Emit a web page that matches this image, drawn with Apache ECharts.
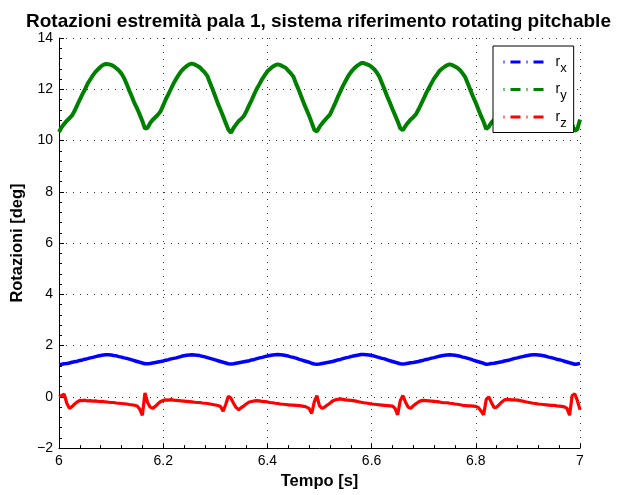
<!DOCTYPE html>
<html>
<head>
<meta charset="utf-8">
<script src="https://cdn.jsdelivr.net/npm/echarts@6/dist/echarts.min.js"></script>
<style>
  html, body { margin: 0; padding: 0; background: #fff; }
  #chart { width: 617px; height: 495px; }
</style>
</head>
<body>
<div id="chart"></div>
<script>
// Sampling of the tip-rotation signals: one sample every 5 ms from 6 s to 7 s
const tStart = 6.0;
const tStep = 0.005;

// r_x [deg]
const rx = [
  1.26, 1.27, 1.29, 1.30, 1.32, 1.35, 1.37, 1.39, 1.42, 1.44,
  1.47, 1.49, 1.52, 1.54, 1.57, 1.59, 1.61, 1.63, 1.64,
  1.64, 1.63, 1.61, 1.60, 1.57, 1.55, 1.52, 1.50, 1.47, 1.44, 1.41, 1.38, 1.35, 1.32, 1.29,
  1.29, 1.30, 1.32, 1.34, 1.36, 1.38, 1.40, 1.43, 1.45, 1.48, 1.50, 1.52, 1.55, 1.58, 1.60, 1.62, 1.63, 1.64,
  1.63, 1.62, 1.61, 1.58, 1.56, 1.53, 1.50, 1.47, 1.44, 1.41, 1.38, 1.35, 1.32, 1.29,
  1.28, 1.29, 1.31, 1.33, 1.35, 1.37, 1.39, 1.41, 1.44, 1.46, 1.49, 1.52, 1.54, 1.57, 1.59, 1.61, 1.63, 1.64, 1.65,
  1.64, 1.63, 1.61, 1.59, 1.56, 1.54, 1.51, 1.47, 1.44, 1.41, 1.38, 1.35, 1.31, 1.28,
  1.27, 1.28, 1.30, 1.32, 1.34, 1.36, 1.38, 1.41, 1.44, 1.46, 1.49, 1.52, 1.54, 1.57, 1.59, 1.61, 1.63, 1.65,
  1.65, 1.64, 1.63, 1.61, 1.59, 1.56, 1.53, 1.50, 1.48, 1.44, 1.41, 1.38, 1.35, 1.32, 1.29,
  1.28, 1.29, 1.31, 1.33, 1.34, 1.36, 1.38, 1.41, 1.43, 1.46, 1.48, 1.51, 1.53, 1.56, 1.58, 1.60, 1.62, 1.63, 1.64,
  1.63, 1.62, 1.60, 1.58, 1.55, 1.53, 1.50, 1.47, 1.43, 1.40, 1.37, 1.34, 1.31, 1.27,
  1.28, 1.30, 1.31, 1.33, 1.35, 1.37, 1.40, 1.42, 1.44, 1.47, 1.50, 1.52, 1.55, 1.57, 1.59, 1.61, 1.63, 1.64,
  1.64, 1.63, 1.62, 1.60, 1.58, 1.55, 1.53, 1.50, 1.47, 1.45, 1.42, 1.39, 1.36, 1.33, 1.30, 1.27, 1.28, 1.32
];

// r_y [deg]
const ry = [
  10.33, 10.52, 10.65, 10.77, 10.87, 10.98, 11.16, 11.38, 11.60, 11.81, 12.00, 12.22, 12.38, 12.54, 12.68, 12.78, 12.88, 12.95, 12.99,
  12.98, 12.95, 12.90, 12.82, 12.73, 12.61, 12.43, 12.20, 11.94, 11.71, 11.45, 11.25, 11.01, 10.76, 10.47,
  10.50, 10.68, 10.81, 10.91, 11.01, 11.14, 11.37, 11.61, 11.81, 12.02, 12.23, 12.41, 12.57, 12.72, 12.82, 12.90, 12.97, 13.00,
  12.97, 12.92, 12.86, 12.75, 12.65, 12.51, 12.24, 11.99, 11.72, 11.44, 11.20, 10.95, 10.68, 10.43,
  10.30, 10.49, 10.63, 10.76, 10.85, 10.96, 11.16, 11.38, 11.59, 11.82, 12.03, 12.21, 12.40, 12.55, 12.70, 12.79, 12.88, 12.94, 12.97,
  12.94, 12.89, 12.84, 12.73, 12.62, 12.49, 12.22, 11.98, 11.72, 11.45, 11.21, 10.97, 10.70, 10.42,
  10.35, 10.53, 10.67, 10.79, 10.90, 11.01, 11.23, 11.45, 11.69, 11.91, 12.13, 12.32, 12.51, 12.66, 12.78, 12.88, 12.95, 13.02,
  13.02, 12.98, 12.94, 12.87, 12.78, 12.65, 12.49, 12.23, 11.98, 11.72, 11.48, 11.23, 10.99, 10.75, 10.48,
  10.40, 10.57, 10.70, 10.82, 10.91, 11.02, 11.21, 11.42, 11.63, 11.86, 12.05, 12.24, 12.42, 12.56, 12.71, 12.80, 12.88, 12.94, 12.97,
  12.94, 12.89, 12.83, 12.74, 12.61, 12.46, 12.21, 11.95, 11.70, 11.47, 11.21, 10.96, 10.73, 10.45,
  10.54, 10.70, 10.81, 10.91, 11.03, 11.17, 11.37, 11.61, 11.81, 12.02, 12.20, 12.38, 12.54, 12.69, 12.79, 12.87, 12.95, 12.99,
  12.98, 12.95, 12.91, 12.84, 12.76, 12.65, 12.51, 12.27, 12.03, 11.79, 11.54, 11.33, 11.08, 10.87, 10.62, 10.38, 10.45, 10.82
];

// r_z [deg]
const rz = [
  0.00, 0.05, 0.10, -0.25, -0.45, -0.38, -0.28, -0.20, -0.14, -0.15,
  -0.13, -0.16, -0.15, -0.17, -0.16, -0.18, -0.19, -0.18, -0.20, -0.21,
  -0.22, -0.22, -0.24, -0.25, -0.26, -0.27, -0.28, -0.30, -0.31, -0.33,
  -0.36, -0.48, -0.72, 0.15, -0.22, -0.40, -0.45, -0.37, -0.27, -0.18,
  -0.14, -0.12, -0.13, -0.11, -0.13, -0.14, -0.15, -0.16, -0.17, -0.18,
  -0.19, -0.20, -0.21, -0.22, -0.22, -0.24, -0.25, -0.26, -0.28, -0.30,
  -0.32, -0.34, -0.38, -0.56, -0.30, 0.02, -0.05, -0.25, -0.42, -0.50,
  -0.42, -0.35, -0.27, -0.20, -0.18, -0.16, -0.15, -0.16, -0.18, -0.19,
  -0.20, -0.22, -0.23, -0.25, -0.26, -0.28, -0.29, -0.30, -0.31, -0.32,
  -0.32, -0.33, -0.34, -0.35, -0.37, -0.40, -0.45, -0.65, -0.20, 0.05,
  -0.35, -0.45, -0.40, -0.32, -0.25, -0.16, -0.12, -0.10, -0.08, -0.10,
  -0.12, -0.13, -0.14, -0.15, -0.17, -0.19, -0.21, -0.23, -0.24, -0.26,
  -0.28, -0.29, -0.30, -0.31, -0.32, -0.33, -0.34, -0.35, -0.36, -0.45,
  -0.70, -0.15, 0.05, -0.20, -0.40, -0.45, -0.35, -0.27, -0.20, -0.15,
  -0.14, -0.15, -0.16, -0.17, -0.18, -0.19, -0.20, -0.22, -0.23, -0.23,
  -0.25, -0.26, -0.28, -0.29, -0.31, -0.33, -0.34, -0.35, -0.35, -0.36,
  -0.37, -0.42, -0.55, -0.70, -0.10, 0.00, -0.22, -0.42, -0.40, -0.30,
  -0.20, -0.12, -0.10, -0.11, -0.12, -0.12, -0.13, -0.15, -0.17, -0.19,
  -0.21, -0.23, -0.25, -0.26, -0.28, -0.29, -0.30, -0.31, -0.32, -0.33,
  -0.33, -0.35, -0.36, -0.37, -0.39, -0.45, -0.72, 0.05, 0.12, -0.15,
  -0.50
];

const seriesNames = ['r_x', 'r_y', 'r_z'];
const seriesColors = ['#0000ff', '#008000', '#ff0000'];
const xTicks = [6, 6.2, 6.4, 6.6, 6.8, 7];
const yTicks = [-2, 0, 2, 4, 6, 8, 10, 12, 14];

const FONT = '"Liberation Sans", Arial, Helvetica, sans-serif';

function toPairs(values) {
  return values.map((v, i) => [+(tStart + i * tStep).toFixed(3), v]);
}

const chart = echarts.init(document.getElementById('chart'), null, { renderer: 'canvas' });

const gridLine = { show: true, lineStyle: { color: '#333', width: 1, type: [1, 6] } };

chart.setOption({
  animation: false,
  backgroundColor: '#ffffff',
  title: {
    text: 'Rotazioni estremità pala 1, sistema riferimento rotating pitchable',
    left: 313.5,
    top: 7,
    textAlign: 'center',
    textStyle: { fontFamily: FONT, fontSize: 19, fontWeight: 'bold', color: '#000' }
  },
  grid: { left: 59, right: 37, top: 38, bottom: 45, containLabel: false },
  xAxis: {
    type: 'value',
    min: xTicks[0],
    max: xTicks[xTicks.length - 1],
    interval: 0.2,
    name: 'Tempo [s]',
    nameLocation: 'middle',
    nameGap: 24,
    nameTextStyle: { fontFamily: FONT, fontSize: 16.5, fontWeight: 'bold', color: '#000' },
    axisLine: { show: true, onZero: false, lineStyle: { color: '#000', width: 1 } },
    axisTick: { show: true, inside: true, length: 5, lineStyle: { color: '#000' } },
    minorTick: { show: true, splitNumber: 5, length: 3, lineStyle: { color: '#000' } },
    axisLabel: {
      margin: 6,
      fontFamily: FONT, fontSize: 14, color: '#000',
      formatter: v => (xTicks.indexOf(+v.toFixed(1)) >= 0 ? String(+v.toFixed(1)) : '')
    },
    splitLine: gridLine
  },
  yAxis: {
    type: 'value',
    min: yTicks[0],
    max: yTicks[yTicks.length - 1],
    interval: 2,
    name: 'Rotazioni [deg]',
    nameLocation: 'middle',
    nameGap: 29,
    nameTextStyle: { fontFamily: FONT, fontSize: 16.5, fontWeight: 'bold', color: '#000' },
    axisLine: { show: true, onZero: false, lineStyle: { color: '#000', width: 1 } },
    axisTick: { show: true, inside: true, length: 5, lineStyle: { color: '#000' } },
    minorTick: { show: true, splitNumber: 5, length: 3, lineStyle: { color: '#000' } },
    axisLabel: {
      margin: 6,
      fontFamily: FONT, fontSize: 14, color: '#000',
      formatter: v => String(v).replace('-', '\u2212')
    },
    splitLine: gridLine
  },
  legend: {
    orient: 'vertical',
    left: 493,
    top: 46,
    padding: [9, 7, 3, 9],
    itemGap: 8,
    itemWidth: 40,
    itemHeight: 10,
    backgroundColor: '#ffffff',
    borderColor: '#000',
    borderWidth: 1,
    borderRadius: 0,
    data: seriesNames.map((n, i) => ({
      name: n,
      itemStyle: { opacity: 0, color: 'rgba(0,0,0,0)', borderWidth: 0 },
      lineStyle: { type: [1, 6, 10, 6], width: 3, color: seriesColors[i], cap: 'butt' }
    })),
    formatter: name => '{b|r}{s|' + name.split('_')[1] + '}',
    textStyle: {
      fontFamily: FONT, fontSize: 14, color: '#000',
      rich: {
        b: { fontFamily: FONT, fontSize: 14, color: '#000', padding: [0, 0, 0, 7] },
        s: { fontFamily: FONT, fontSize: 13, color: '#000', padding: [12, 0, 0, 0] }
      }
    }
  },
  series: [
    { name: seriesNames[0], type: 'line', data: toPairs(rx), showSymbol: false, symbol: 'none',
      lineStyle: { color: seriesColors[0], width: 3.5 }, itemStyle: { color: seriesColors[0] } },
    { name: seriesNames[1], type: 'line', data: toPairs(ry), showSymbol: false, symbol: 'none',
      lineStyle: { color: seriesColors[1], width: 4 }, itemStyle: { color: seriesColors[1] } },
    { name: seriesNames[2], type: 'line', data: toPairs(rz), showSymbol: false, symbol: 'none',
      lineStyle: { color: seriesColors[2], width: 3.2 }, itemStyle: { color: seriesColors[2] } }
  ]
});
</script>
</body>
</html>
